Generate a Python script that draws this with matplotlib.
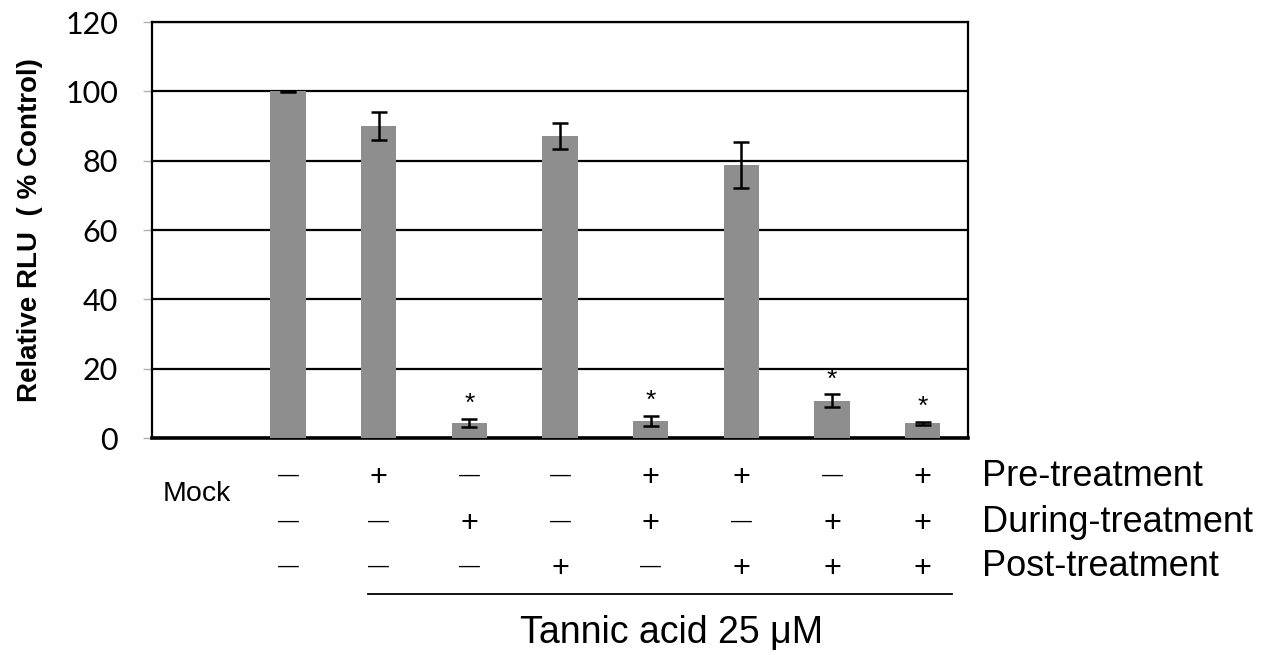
"""Relative RLU after tannic acid treatment at different stages of infection."""

import matplotlib

matplotlib.use("Agg")
import matplotlib.pyplot as plt
import matplotlib.transforms as mtransforms
import numpy as np

# first slot of the category axis is left empty, the Mock bar sits in slot 1
slots = ["", "Mock", "A", "B", "C", "D", "E", "F", "G"]
values = [np.nan, 100.0, 90.0, 4.3, 87.1, 4.9, 78.7, 10.7, 4.2]
errors = [0.0, 0.2, 4.1, 1.2, 3.8, 1.5, 6.6, 1.9, 0.5]
significant = [False, False, False, True, False, True, False, True, True]

pre_treatment = ["—", "+", "—", "—", "+", "+", "—", "+"]
during_treatment = ["—", "—", "+", "—", "+", "—", "+", "+"]
post_treatment = ["—", "—", "—", "+", "—", "+", "+", "+"]
row_labels = ["Pre-treatment", "During-treatment", "Post-treatment"]

y_ticks = [0, 20, 40, 60, 80, 100, 120]

SANS = "Liberation Sans"
TICK_FONT = "Lato"

fig = plt.figure(figsize=(12.69, 6.55), dpi=100)
W, H = 1269, 655


def fx(px):
    return px / W


def fy(py):
    return 1 - py / H


ax = fig.add_axes([fx(152), fy(438), fx(968) - fx(152), fy(22) - fy(438)])

x = np.arange(len(slots))
ax.bar(x, values, width=0.39, color="#8e8e8e", zorder=3)
ax.errorbar(
    x[1:], values[1:], yerr=errors[1:], fmt="none", ecolor="black",
    elinewidth=1.8, capsize=5.5, capthick=1.8, zorder=4,
)
for xi, val, err, sig in zip(x, values, errors, significant):
    if sig:
        ax.annotate("*", (xi, val + err), xytext=(0, 2), textcoords="offset points",
                    ha="center", va="bottom", fontsize=19, fontfamily=SANS)

ax.set_xlim(-0.5, len(slots) - 0.5)
ax.set_ylim(0, 120)
ax.set_yticks(y_ticks)
ax.set_yticklabels([str(t) for t in y_ticks], fontsize=22, fontfamily=TICK_FONT)
ax.set_xticks([])
ax.yaxis.grid(True, color="black", linewidth=1.6, zorder=0)
ax.tick_params(axis="y", length=6.5, width=1, color="#b0b0b0", pad=18)
for side in ["left", "right", "top"]:
    ax.spines[side].set_linewidth(1.6)
ax.spines["bottom"].set_linewidth(2.6)
ax.set_ylabel("Relative RLU  ( % Control)", fontsize=20, fontweight="bold",
              fontfamily=SANS, labelpad=16)

# treatment table under the bars
trans = mtransforms.blended_transform_factory(ax.transData, fig.transFigure)
rows = [pre_treatment, during_treatment, post_treatment]
row_y = [474, 520, 565]
for signs, py, label in zip(rows, row_y, row_labels):
    for xi, s in zip(x[1:], signs):
        if s == "+":
            ax.text(xi, fy(py + 4), s, transform=trans, ha="center", va="center",
                    fontsize=22, fontfamily=SANS)
        else:
            ax.text(xi, fy(py + 1), s, transform=trans, ha="center", va="center",
                    fontsize=15, fontfamily=SANS)
    fig.text(fx(982), fy(py + 2), label, ha="left", va="center", fontsize=26,
             fontfamily=SANS)

fig.text(fx(163), fy(494), "Mock", ha="left", va="center", fontsize=20.5, fontfamily=SANS)
fig.add_artist(plt.Line2D([fx(368), fx(952)], [fy(594), fy(594)], color="black",
                          linewidth=1.3))
fig.text(fx(672), fy(633), "Tannic acid 25 μM", ha="center", va="center",
         fontsize=27, fontfamily=SANS)

fig.savefig("out.png", dpi=100, facecolor="white")
